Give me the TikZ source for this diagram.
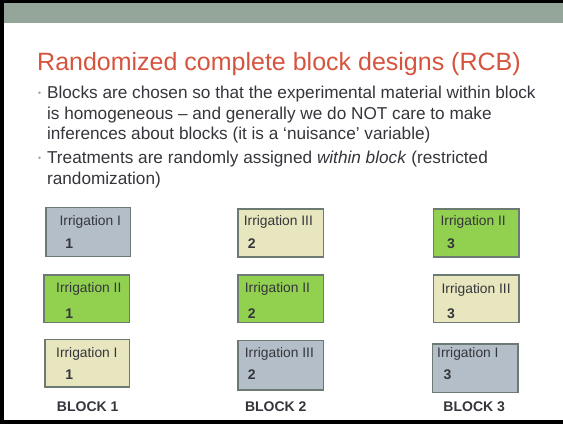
\documentclass[tikz,border=0pt]{standalone}
\usepackage{fontspec}
\setmainfont{Liberation Sans}
\definecolor{headband}{HTML}{94A599}
\definecolor{titlered}{HTML}{D6543E}
\definecolor{bodytext}{HTML}{35363B}
\definecolor{bulletgray}{HTML}{A3A3A3}
\definecolor{plotgray}{HTML}{B4BEC8}
\definecolor{plotgreen}{HTML}{92D050}
\definecolor{plotbeige}{HTML}{E8E6BF}
\definecolor{plotedge}{HTML}{6D7A72}
\tikzset{
  plotbox/.style={draw=plotedge, line width=1.5pt, inner sep=0pt},
  graybox/.style={plotbox, fill=plotgray},
  greenbox/.style={plotbox, fill=plotgreen},
  beigebox/.style={plotbox, fill=plotbeige},
  bodyline/.style={anchor=base west, inner sep=0pt, text=bodytext,
    font=\fontsize{17.2}{20.5}\selectfont},
  bulletdot/.style={circle, fill=bulletgray, inner sep=0pt, minimum size=2.6pt},
  plotlbl/.style={anchor=base west, inner sep=0pt, text=bodytext,
    font=\fontsize{13.8}{16}\selectfont},
  plotnum/.style={anchor=base west, inner sep=0pt, text=bodytext,
    font=\fontsize{14}{16}\selectfont\bfseries},
  blocklbl/.style={anchor=base, inner sep=0pt, text=bodytext,
    font=\fontsize{14}{16}\selectfont\bfseries}
}
\begin{document}
\begin{tikzpicture}[x=1pt,y=-1pt]
\useasboundingbox (0,0) rectangle (563,424);
% slide frame and header band
\fill[white] (0,0) rectangle (563,424);
\fill[black] (0,0) rectangle (563,3);
\fill[black] (0,0) rectangle (4,424);
\fill[black] (0,420) rectangle (563,424);
\fill[headband] (4,3) rectangle (563,23.3);

% title
\node[anchor=base west, inner sep=0pt, text=titlered,
  font=\fontsize{25}{30}\selectfont] (title) at (37,70)
  {Randomized complete block designs (RCB)};

% bullet points
\node[bulletdot] (dot1) at (39.5,92.7) {};
\node[bodyline] (l1) at (46.9,98.3) {Blocks are chosen so that the experimental material within block};
\node[bodyline] (l2) at (46.9,119.3) {is homogeneous -- and generally we do NOT care to make};
\node[bodyline] (l3) at (46.9,139.3) {inferences about blocks (it is a ‘nuisance’ variable)};
\node[bulletdot] (dot2) at (39.5,157.7) {};
\node[bodyline] (l4) at (46.9,163.5) {Treatments are randomly assigned \textit{within block} (restricted};
\node[bodyline] (l5) at (46.9,184.5) {randomization)};

% block 1
\node[graybox,  minimum width=84.5pt, minimum height=49.1pt] (b1p1) at (88,232) {};
\node[greenbox, minimum width=85.5pt, minimum height=47.8pt] (b1p2) at (86.8,298.7) {};
\node[beigebox, minimum width=84.5pt, minimum height=47.2pt] (b1p3) at (87,363.3) {};
\node[plotlbl] (t1a) at (59.4,225) {Irrigation I};
\node[plotnum] (n1a) at (65.2,248) {1};
\node[plotlbl] (t1b) at (56,292) {Irrigation II};
\node[plotnum] (n1b) at (65.2,318) {1};
\node[plotlbl] (t1c) at (56,357) {Irrigation I};
\node[plotnum] (n1c) at (65.2,379) {1};
\node[blocklbl] (blk1) at (87.7,411) {BLOCK 1};

% block 2
\node[beigebox, minimum width=85.2pt, minimum height=47.9pt] (b2p1) at (280.7,233) {};
\node[greenbox, minimum width=85.2pt, minimum height=47.8pt] (b2p2) at (280.7,298.7) {};
\node[graybox,  minimum width=85.2pt, minimum height=49.2pt] (b2p3) at (280.7,365.3) {};
\node[plotlbl] (t2a) at (243.7,225) {Irrigation III};
\node[plotnum] (n2a) at (247.6,248) {2};
\node[plotlbl] (t2b) at (244.7,292) {Irrigation II};
\node[plotnum] (n2b) at (247.6,318) {2};
\node[plotlbl] (t2c) at (244.7,357) {Irrigation III};
\node[plotnum] (n2c) at (247.6,379) {2};
\node[blocklbl] (blk2) at (275.8,411) {BLOCK 2};

% block 3
\node[greenbox, minimum width=85.8pt, minimum height=47.9pt] (b3p1) at (476.3,233) {};
\node[beigebox, minimum width=85.8pt, minimum height=47.8pt] (b3p2) at (476.3,298.7) {};
\node[graybox,  minimum width=85.8pt, minimum height=48.5pt] (b3p3) at (475.3,368.3) {};
\node[plotlbl] (t3a) at (440.4,225) {Irrigation II};
\node[plotnum] (n3a) at (447,248) {3};
\node[plotlbl] (t3b) at (441.4,293) {Irrigation III};
\node[plotnum] (n3b) at (447,318) {3};
\node[plotlbl] (t3c) at (437,357) {Irrigation I};
\node[plotnum] (n3c) at (443.3,379) {3};
\node[blocklbl] (blk3) at (474.2,411) {BLOCK 3};
\end{tikzpicture}
\end{document}
